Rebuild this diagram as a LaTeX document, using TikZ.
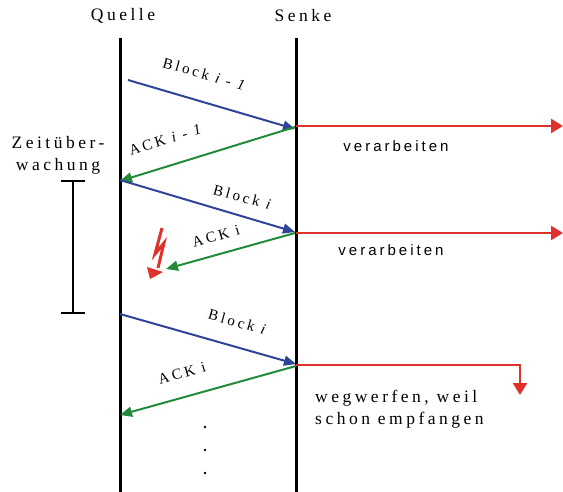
\documentclass[tikz,border=0pt]{standalone}
\usepackage{fontspec}
\setmainfont{Liberation Serif}
\newfontfamily\lsserif[LetterSpace=20]{Liberation Serif}
\newfontfamily\lssans[LetterSpace=20]{Liberation Sans}
\usetikzlibrary{arrows.meta}
\definecolor{msgblue}{RGB}{46,68,150}
\definecolor{ackgreen}{RGB}{34,139,58}
\definecolor{procred}{RGB}{224,50,45}
\newcommand{\wsp}{\hspace{0.45em}}
\begin{document}
\begin{tikzpicture}[x=1pt,y=-1pt,
  lifeline/.style={line width=3pt, black},
  blockmsg/.style={line width=2pt, msgblue, -{Triangle[length=12pt,width=10pt]}},
  ackmsg/.style={line width=2pt, ackgreen, -{Triangle[length=12pt,width=10pt]}},
  procline/.style={line width=2.5pt, procred, -{Triangle[length=12pt,width=14pt]}},
  bigtxt/.style={font=\lsserif\fontsize{17.5}{22}\selectfont, inner sep=0pt},
  msgtxt/.style={font=\lsserif\fontsize{15}{18}\selectfont, inner sep=0pt},
  sanstxt/.style={font=\lssans\fontsize{15}{18}\selectfont, inner sep=0pt}]
\useasboundingbox (0,0) rectangle (563,492);

% headings
\node[bigtxt] (quelle) at (123,16) {Quelle};
\node[bigtxt] (senke) at (303,16) {Senke};

% lifelines
\coordinate (qtop) at (120,38);
\coordinate (qbot) at (120,492);
\coordinate (stop) at (296,38);
\coordinate (sbot) at (296,492);
\draw[lifeline] (qtop) -- (qbot);
\draw[lifeline] (stop) -- (sbot);

% timeout
\node[bigtxt, align=center] (zeit) at (58,155) {Zeitüber-\\wachung};
\coordinate (ztop) at (73,181);
\coordinate (zbot) at (73,313);
\draw[line width=2.5pt] (ztop) -- (zbot);
\draw[line width=2.5pt] ([xshift=-12pt]ztop) -- ([xshift=12pt]ztop);
\draw[line width=2.5pt] ([xshift=-12pt]zbot) -- ([xshift=12pt]zbot);

% message endpoints
\coordinate (b1s) at (128,80);
\coordinate (b1e) at (295,129);
\coordinate (a1s) at (295,127);
\coordinate (a1e) at (120,181);
\coordinate (b2s) at (120,180);
\coordinate (b2e) at (295,232);
\coordinate (a2s) at (295,233);
\coordinate (a2e) at (166,269);
\coordinate (b3s) at (120,314);
\coordinate (b3e) at (296,364);
\coordinate (a3s) at (296,366);
\coordinate (a3e) at (120,415);

\draw[blockmsg] (b1s) -- (b1e);
\draw[ackmsg] (a1s) -- (a1e);
\draw[blockmsg] (b2s) -- (b2e);
\draw[ackmsg] (a2s) -- (a2e);
\draw[blockmsg] (b3s) -- (b3e);
\draw[ackmsg] (a3s) -- (a3e);

% message labels
\node[msgtxt, rotate=-16] (lb1) at (204,74) {Block\wsp{\itshape i\wsp-\wsp1}};
\node[msgtxt, rotate=17] (la1) at (165,140) {ACK\wsp{\itshape i\wsp-\wsp1}};
\node[msgtxt, rotate=-15] (lb2) at (242,197) {Block\wsp{\itshape i}};
\node[msgtxt, rotate=16] (la2) at (216,236) {ACK\wsp i};
\node[msgtxt, rotate=-16] (lb3) at (237,322) {Block\wsp{\itshape i}};
\node[msgtxt, rotate=16] (la3) at (182,373) {ACK\wsp i};

% processing arrows
\coordinate (r1s) at (296,126);
\coordinate (r1e) at (563,126);
\coordinate (r2s) at (296,233);
\coordinate (r2e) at (563,233);
\coordinate (r3s) at (296,365);
\coordinate (r3e) at (520,395);
\draw[procline] (r1s) -- (r1e);
\draw[procline] (r2s) -- (r2e);
\draw[procline] (r3s) -| (r3e);

\node[sanstxt] (v1) at (396,146) {verarbeiten};
\node[sanstxt] (v2) at (391,250) {verarbeiten};
\node[bigtxt, anchor=base west, align=left] (weg) at (315,424) {wegwerfen, weil\\schon empfangen};

% lightning (loss)
\draw[procred, line width=3pt, line join=miter, line cap=butt] (162,228) -- (155,254) -- (164,243) -- (158,268);
\fill[procred] (147,267) -- (163,272) -- (150,279) -- cycle;

% dots
\fill (205,427) circle (1.3pt);
\fill (205,450) circle (1.3pt);
\fill (205,473) circle (1.3pt);
\end{tikzpicture}
\end{document}
